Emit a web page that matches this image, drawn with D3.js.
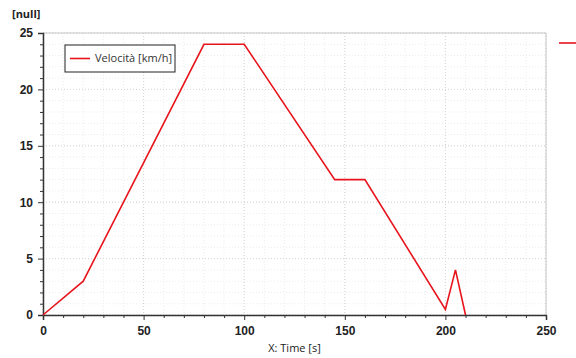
<!DOCTYPE html>
<html>
<head>
<meta charset="utf-8">
<script src="https://cdn.jsdelivr.net/npm/d3@7"></script>
<style>
  body { margin: 0; background: #fff; }
  svg { display: block; font-family: "Open Sans", "DejaVu Sans", sans-serif; }
</style>
</head>
<body>
<div id="chart"></div>
<script>
// data
const timeS = [0, 20, 80, 100, 145, 160, 200, 205, 210];
const speedKmh = [0, 3, 24, 24, 12, 12, 0.5, 4, 0];
const xTicks = [0, 50, 100, 150, 200, 250];
const yTicks = [0, 5, 10, 15, 20, 25];
const seriesName = 'Velocità [km/h]';

const W = 576, H = 358;
const margin = { top: 33, right: 30, bottom: 43, left: 43 };
const width = W - margin.left - margin.right;
const height = H - margin.top - margin.bottom;

const svg = d3.select('#chart').append('svg')
  .attr('width', W).attr('height', H);

const g = svg.append('g')
  .attr('transform', `translate(${margin.left},${margin.top})`);

const x = d3.scaleLinear().domain([0, 250]).range([0, width]);
const y = d3.scaleLinear().domain([0, 25]).range([height, 0]);

// minor grid
g.append('g')
  .selectAll('line')
  .data(d3.range(0, 251, 10))
  .join('line')
  .attr('x1', d => x(d)).attr('x2', d => x(d))
  .attr('y1', 0).attr('y2', height)
  .attr('stroke', '#ececec').attr('stroke-dasharray', '1,2');
g.append('g')
  .selectAll('line')
  .data(d3.range(0, 26, 1))
  .join('line')
  .attr('y1', d => y(d)).attr('y2', d => y(d))
  .attr('x1', 0).attr('x2', width)
  .attr('stroke', '#ececec').attr('stroke-dasharray', '1,2');

// major grid
g.append('g')
  .selectAll('line')
  .data(xTicks)
  .join('line')
  .attr('x1', d => x(d)).attr('x2', d => x(d))
  .attr('y1', 0).attr('y2', height)
  .attr('stroke', '#d4d4d4').attr('stroke-dasharray', '1,2');
g.append('g')
  .selectAll('line')
  .data(yTicks)
  .join('line')
  .attr('y1', d => y(d)).attr('y2', d => y(d))
  .attr('x1', 0).attr('x2', width)
  .attr('stroke', '#d4d4d4').attr('stroke-dasharray', '1,2');

// plot frame (top / right)
g.append('path')
  .attr('d', `M0,0H${width}V${height}`)
  .attr('fill', 'none').attr('stroke', '#c8c8c8');

// axes
const xAxis = g.append('g')
  .attr('transform', `translate(0,${height})`)
  .call(d3.axisBottom(x).tickValues(xTicks).tickSize(5).tickPadding(6));
g.append('g')
  .attr('transform', `translate(0,${height})`)
  .call(d3.axisBottom(x).tickValues(d3.range(0, 251, 10).filter(d => d % 50))
    .tickSize(3).tickFormat(''))
  .call(a => a.select('.domain').remove());

const yAxis = g.append('g')
  .call(d3.axisLeft(y).tickValues(yTicks).tickSize(5).tickPadding(5));
g.append('g')
  .call(d3.axisLeft(y).tickValues(d3.range(0, 26, 1).filter(d => d % 5))
    .tickSize(3).tickFormat(''))
  .call(a => a.select('.domain').remove());

[xAxis, yAxis].forEach(a => {
  a.select('.domain').attr('stroke', '#333').attr('stroke-width', 1.5);
  a.selectAll('.tick line').attr('stroke', '#333');
  a.selectAll('text')
    .attr('fill', '#222')
    .style('font-size', '12px')
    .style('font-weight', 'bold');
});
g.selectAll('.tick line').attr('stroke', '#333');

// line
const line = d3.line()
  .x((d, i) => x(timeS[i]))
  .y(d => y(d));

g.append('path')
  .datum(speedKmh)
  .attr('fill', 'none')
  .attr('stroke', '#e8141c')
  .attr('stroke-width', 1.6)
  .attr('stroke-linejoin', 'miter')
  .attr('d', line);

// legend
const leg = svg.append('g').attr('transform', 'translate(65,45)');
leg.append('rect')
  .attr('width', 110).attr('height', 27)
  .attr('fill', '#fff').attr('stroke', '#222').attr('stroke-width', 1);
leg.append('line')
  .attr('x1', 5).attr('x2', 25).attr('y1', 13.5).attr('y2', 13.5)
  .attr('stroke', '#e8141c').attr('stroke-width', 1.6);
leg.append('text')
  .attr('x', 30).attr('y', 13.5).attr('dy', '0.35em')
  .style('font-size', '11px').attr('fill', '#333')
  .text(seriesName);

// clipped marker at the right edge
svg.append('line')
  .attr('x1', 559).attr('x2', 576).attr('y1', 43).attr('y2', 43)
  .attr('stroke', '#e8141c').attr('stroke-width', 1.6);

// labels
svg.append('text')
  .attr('x', 12).attr('y', 18)
  .style('font-size', '11px').style('font-weight', 'bold').attr('fill', '#222')
  .text('[null]');

svg.append('text')
  .attr('x', margin.left + width / 2).attr('y', 352)
  .attr('text-anchor', 'middle')
  .style('font-size', '11px').attr('fill', '#222')
  .text('X: Time [s]');
</script>
</body>
</html>
